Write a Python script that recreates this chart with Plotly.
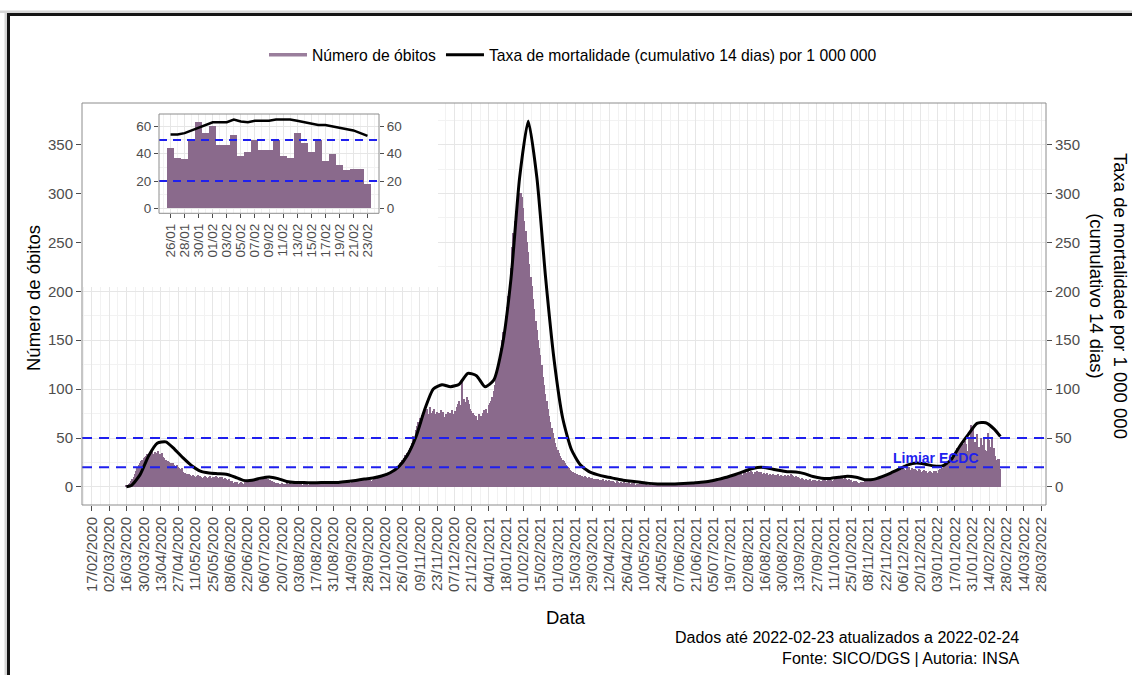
import pandas as pd
import plotly.graph_objects as go

# ---------------- data ----------------
# Daily number of deaths (SICO), one list per month
obitos_2020_03 = [1, 1, 3, 4, 6, 8, 10, 13, 16, 19, 22, 24, 26, 28, 30, 31]  # from 16/03
obitos_2020_04 = [32, 34, 33, 36, 35, 37, 34, 36, 33, 35, 37, 34, 33, 35, 31, 30, 28, 27, 26, 25,
                  24, 23, 24, 22, 21, 22, 20, 19, 18, 19]
obitos_2020_05 = [15, 14, 14, 13, 12, 13, 12, 11, 12, 11, 10, 11, 12, 10, 11, 10, 9, 10, 11, 10,
                  9, 10, 11, 9, 10, 10, 9, 11, 10, 9, 10]
obitos_2020_06 = [9, 10, 8, 9, 8, 7, 8, 6, 5, 6, 4, 5, 4, 5, 3, 4, 5, 4, 3, 5,
                  4, 6, 5, 7, 6, 8, 7, 6, 8, 7]
obitos_2020_07 = [8, 7, 9, 8, 7, 8, 9, 7, 8, 6, 7, 6, 5, 5, 4, 4, 4, 3, 3, 4,
                  3, 3, 3, 4, 3, 3, 4, 3, 3, 4, 3]
obitos_2020_08 = [3, 4, 3, 3, 4, 2, 3, 4, 3, 3, 2, 4, 3, 3, 4, 3, 2, 3, 4, 3,
                  3, 4, 3, 2, 3, 4, 3, 3, 4, 3, 4]
obitos_2020_09 = [3, 4, 4, 3, 5, 4, 4, 5, 4, 5, 5, 6, 5, 4, 6, 5, 6, 5, 6, 7,
                  6, 7, 6, 7, 6, 7, 8, 7, 8, 7]
obitos_2020_10 = [6, 7, 8, 9, 8, 9, 10, 9, 11, 10, 12, 11, 13, 12, 14, 13, 15, 16, 17, 18,
                  20, 21, 22, 24, 25, 28, 30, 33, 31, 35, 38]
obitos_2020_11 = [40, 42, 45, 52, 50, 58, 62, 66, 70, 68, 74, 72, 78, 76, 80, 75, 82, 76, 74, 78,
                  80, 75, 77, 73, 76, 79, 74, 77, 71, 75]
obitos_2020_12 = [74, 77, 72, 76, 79, 73, 75, 78, 82, 85, 88, 84, 108, 86, 90, 87, 92, 89, 85, 80,
                  78, 76, 74, 70, 72, 68, 75, 71, 73, 76, 79]
obitos_2021_01 = [78, 80, 76, 84, 86, 88, 92, 98, 104, 110, 118, 126, 134, 142, 150, 158, 166, 175, 184, 195,
                  208, 224, 245, 260, 272, 282, 290, 297, 301, 300, 296]
obitos_2021_02 = [285, 272, 262, 250, 240, 228, 215, 205, 192, 182, 170, 160, 150, 142, 135, 125, 112, 104, 95, 88,
                  80, 72, 66, 60, 55, 50, 45, 41]
obitos_2021_03 = [38, 35, 32, 30, 28, 26, 24, 22, 20, 19, 17, 16, 15, 13, 14, 13, 13, 12, 12, 11,
                  11, 10, 11, 10, 9, 10, 9, 8, 9, 8, 8]
obitos_2021_04 = [8, 7, 8, 7, 6, 7, 8, 6, 7, 6, 5, 7, 6, 5, 6, 5, 4, 6, 5, 4,
                  5, 4, 3, 5, 4, 3, 4, 5, 3, 4]
obitos_2021_05 = [3, 4, 2, 3, 3, 2, 4, 3, 2, 3, 2, 3, 1, 2, 3, 2, 2, 3, 1, 2,
                  2, 3, 2, 1, 2, 3, 2, 2, 1, 2, 3]
obitos_2021_06 = [2, 3, 2, 2, 3, 2, 3, 3, 2, 4, 3, 2, 3, 4, 3, 3, 4, 3, 4, 4,
                  3, 4, 3, 4, 4, 5, 4, 4, 5, 4]
obitos_2021_07 = [5, 6, 5, 6, 7, 6, 7, 8, 7, 6, 8, 7, 9, 8, 8, 10, 9, 11, 10, 12,
                  11, 10, 12, 13, 12, 11, 14, 13, 12, 14, 15]
obitos_2021_08 = [14, 16, 15, 14, 16, 15, 13, 15, 14, 16, 15, 14, 15, 13, 14, 12, 13, 14, 12, 13,
                  12, 11, 13, 12, 11, 12, 13, 11, 12, 10, 11]
obitos_2021_09 = [12, 11, 10, 12, 11, 13, 12, 11, 10, 11, 9, 10, 9, 8, 9, 8, 7, 8, 7, 6,
                  7, 8, 6, 7, 6, 7, 6, 5, 7, 6]
obitos_2021_10 = [6, 7, 6, 7, 6, 8, 7, 6, 7, 6, 7, 8, 9, 8, 9, 8, 10, 9, 8, 9,
                  8, 7, 8, 6, 7, 5, 6, 5, 6, 5, 4]
obitos_2021_11 = [4, 5, 4, 5, 6, 5, 6, 7, 6, 7, 8, 7, 8, 9, 8, 9, 10, 9, 10, 11,
                  10, 12, 11, 13, 12, 14, 13, 15, 14, 16]
obitos_2021_12 = [15, 17, 16, 18, 17, 19, 18, 17, 19, 18, 20, 17, 19, 18, 16, 18, 17, 16, 18, 17,
                  15, 16, 17, 15, 16, 14, 15, 16, 15, 14, 16]
obitos_2022_01 = [15, 16, 14, 17, 18, 16, 19, 20, 22, 21, 24, 23, 29, 31, 30, 33, 36, 37, 40, 39,
                  43, 42, 45, 44, 47, 44, 37, 36, 49, 63, 55]
obitos_2022_02 = [60, 46, 46, 54, 38, 41, 50, 43, 43, 50, 38, 37, 55, 48, 41, 50, 35, 40, 32, 28,
                  29, 29, 18]  # up to 23/02

# 14-day cumulative mortality rate per 1 000 000 (weekly readings, Fridays)
taxa_14d = [0.1,
            1.5, 12.3, 31.7, 44.7, 46.0, 38.7, 29.6, 21.7, 16.1, 14.2,
            13.5, 12.9, 10.1, 6.7, 6.7, 9.0, 10.2, 8.5, 5.6, 4.5,
            4.4, 4.3, 4.4, 4.4, 4.6, 5.5, 6.6, 8.0, 9.0, 11.1,
            14.5, 20.8, 32.5, 51.6, 79.1, 100.1, 104.4, 102.5, 105.0, 116.1,
            113.7, 102.4, 109.1, 144.5, 213.0, 316.2, 374.0, 316.2, 215.0, 129.5,
            69.9, 38.2, 22.9, 15.9, 12.5, 10.3, 8.6, 6.9, 5.7, 4.8,
            3.6, 3.0, 2.9, 2.9, 3.4, 4.1, 4.7, 5.7, 7.7, 9.9,
            12.7, 15.9, 18.8, 20.1, 18.7, 17.0, 15.6, 15.2, 13.6, 10.6,
            8.9, 8.7, 9.8, 11.0, 9.9, 7.4, 7.7, 10.6, 14.2, 18.3,
            22.5, 24.4, 23.2, 21.4, 21.5, 27.7, 41.6, 53.7, 64.9, 65.6,
            59.1,
            51.5]

# detail window (last 4 weeks): daily rate
detalhe_taxa = [54, 54, 55, 57, 59, 61, 63, 63, 63, 65, 63.5, 63, 64, 64, 64,
                65, 65, 65, 64, 63, 62, 61, 61, 60, 59, 58, 57, 55, 53]

limiares = [20, 50]          # ECDC thresholds
y_ticks = [0, 50, 100, 150, 200, 250, 300, 350]
y_ticks_detalhe = [0, 20, 40, 60]

obitos = (obitos_2020_03 + obitos_2020_04 + obitos_2020_05 + obitos_2020_06 + obitos_2020_07 +
          obitos_2020_08 + obitos_2020_09 + obitos_2020_10 + obitos_2020_11 + obitos_2020_12 +
          obitos_2021_01 + obitos_2021_02 + obitos_2021_03 + obitos_2021_04 + obitos_2021_05 +
          obitos_2021_06 + obitos_2021_07 + obitos_2021_08 + obitos_2021_09 + obitos_2021_10 +
          obitos_2021_11 + obitos_2021_12 + obitos_2022_01 + obitos_2022_02)
datas = pd.date_range("2020-03-16", "2022-02-23", freq="D")
assert len(obitos) == len(datas)

taxa_datas = ([pd.Timestamp("2020-03-16")]
              + list(pd.date_range("2020-03-20", "2022-02-18", freq="7D"))
              + [pd.Timestamp("2022-02-23")])
assert len(taxa_datas) == len(taxa_14d)

detalhe_datas = datas[-29:]
detalhe_obitos = obitos[-29:]
assert len(detalhe_taxa) == len(detalhe_datas)

# ---------------- styling ----------------
W, H = 1132, 675
ML, MR, MT, MB = 82, 86, 103, 170
PW, PH = W - ML - MR, H - MT - MB


def px_x(px):
    return (px - ML) / PW


def px_y(py):
    return (H - MB - py) / PH


FONT = "Liberation Sans, Arial, Helvetica, sans-serif"
BAR = "#8A6A8C"
GRID = "#E6E6E6"
GRID_MINOR = "#F2F2F2"
TICKTXT = "#4D4D4D"
BORDER = "#8C8C8C"
BLUE = "#1F1FEE"
DAY = 86400000

fig = go.Figure()

# main chart
fig.add_trace(go.Bar(x=datas, y=obitos, width=DAY, marker=dict(color=BAR, line=dict(width=0)),
                     showlegend=False, hoverinfo="x+y", xaxis="x", yaxis="y"))
fig.add_trace(go.Scatter(x=[None], y=[None], mode="lines", name="Número de óbitos",
                         line=dict(color="#9A7E9C", width=3.5), xaxis="x", yaxis="y", legendrank=1))
fig.add_trace(go.Scatter(x=taxa_datas, y=taxa_14d, mode="lines",
                         name="Taxa de mortalidade (cumulativo 14 dias) por 1 000 000",
                         line=dict(color="black", width=3, shape="spline", smoothing=0.6),
                         xaxis="x", yaxis="y", legendrank=2))
# right-hand axis carrier
fig.add_trace(go.Scatter(x=[None], y=[None], showlegend=False, hoverinfo="skip", xaxis="x", yaxis="y2"))
# white backdrop behind the detail panel
fig.add_trace(go.Scatter(x=[None], y=[None], showlegend=False, hoverinfo="skip", xaxis="x2", yaxis="y3"))
# detail panel
fig.add_trace(go.Bar(x=detalhe_datas, y=detalhe_obitos, width=DAY,
                     marker=dict(color=BAR, line=dict(width=0)),
                     showlegend=False, xaxis="x3", yaxis="y4"))
fig.add_trace(go.Scatter(x=detalhe_datas, y=detalhe_taxa, mode="lines",
                         line=dict(color="black", width=2.5), showlegend=False,
                         xaxis="x3", yaxis="y4"))
fig.add_trace(go.Scatter(x=[None], y=[None], showlegend=False, hoverinfo="skip", xaxis="x3", yaxis="y5"))

tickfont = dict(family=FONT, size=15, color=TICKTXT)
tickfont_small = dict(family=FONT, size=13.5, color=TICKTXT)

yrange = [-18.5, 392.5]
yrange_det = [-3.6, 69]

shapes = []
for v in limiares:
    shapes.append(dict(type="line", xref="x domain", yref="y", x0=0, x1=1, y0=v, y1=v,
                       line=dict(color=BLUE, width=2, dash="10px,7px"), layer="above"))
    shapes.append(dict(type="line", xref="x3 domain", yref="y4", x0=0, x1=1, y0=v, y1=v,
                       line=dict(color=BLUE, width=2, dash="8px,6px"), layer="above"))
# panel borders
shapes.append(dict(type="rect", xref="paper", yref="paper", x0=0, x1=1, y0=0, y1=1,
                   line=dict(color=BORDER, width=1), fillcolor="rgba(0,0,0,0)", layer="above"))
shapes.append(dict(type="rect", xref="x3 domain", yref="y4 domain", x0=0, x1=1, y0=0, y1=1,
                   line=dict(color=BORDER, width=1), fillcolor="rgba(0,0,0,0)", layer="above"))
# page frame
shapes.append(dict(type="rect", xref="paper", yref="paper", x0=px_x(0), x1=px_x(W),
                   y0=px_y(13), y1=px_y(10.5), line=dict(width=0), fillcolor="#D6D6D6", layer="above"))
shapes.append(dict(type="rect", xref="paper", yref="paper", x0=px_x(7), x1=px_x(W),
                   y0=px_y(16), y1=px_y(13), line=dict(width=0), fillcolor="#151515", layer="above"))
shapes.append(dict(type="rect", xref="paper", yref="paper", x0=px_x(4.5), x1=px_x(7),
                   y0=px_y(H), y1=px_y(13), line=dict(width=0), fillcolor="#D6D6D6", layer="above"))
shapes.append(dict(type="rect", xref="paper", yref="paper", x0=px_x(7), x1=px_x(10),
                   y0=px_y(H), y1=px_y(13), line=dict(width=0), fillcolor="#151515", layer="above"))

annotations = [
    dict(text="<b>Limiar ECDC</b>", x="2022-01-02", y=30, xref="x", yref="y", showarrow=False,
         font=dict(family=FONT, size=14, color=BLUE), xanchor="center", yanchor="middle"),
    dict(text="Número de óbitos", x=px_x(33), y=px_y(298), xref="paper", yref="paper",
         showarrow=False, textangle=-90, font=dict(family=FONT, size=18.5, color="black"),
         xanchor="center", yanchor="middle"),
    dict(text="Taxa de mortalidade por 1 000 000<br>(cumulativo 14 dias)", x=px_x(1109), y=px_y(296),
         xref="paper", yref="paper", showarrow=False, textangle=90,
         font=dict(family=FONT, size=18.5, color="black"), xanchor="center", yanchor="middle"),
    dict(text="Data", x=px_x(566), y=px_y(617), xref="paper", yref="paper", showarrow=False,
         font=dict(family=FONT, size=18.5, color="black"), xanchor="center", yanchor="middle"),
    dict(text="Dados até 2022-02-23 atualizados a 2022-02-24<br>Fonte: SICO/DGS | Autoria: INSA",
         x=px_x(1022), y=px_y(648), xref="paper", yref="paper", showarrow=False, align="right",
         font=dict(family=FONT, size=16, color="black"), xanchor="right", yanchor="middle"),
]

fig.update_layout(
    width=W, height=H, autosize=False,
    margin=dict(l=ML, r=MR, t=MT, b=MB, autoexpand=False),
    paper_bgcolor="white", plot_bgcolor="white",
    font=dict(family=FONT, color="black"),
    bargap=0,
    showlegend=True,
    legend=dict(orientation="h", x=px_x(573), xanchor="center", y=px_y(55), yanchor="middle",
                font=dict(family=FONT, size=15.7, color="black"), bgcolor="rgba(0,0,0,0)",
                itemwidth=38, traceorder="normal"),
    xaxis=dict(type="date", domain=[0, 1], anchor="y",
               range=["2020-02-09", "2022-04-01"],
               tick0="2020-02-17", dtick=14 * DAY, tickformat="%d/%m/%Y", tickangle=-90,
               ticks="outside", ticklen=5, tickcolor=TICKTXT, tickfont=tickfont,
               showgrid=True, gridcolor=GRID, zeroline=False, showline=False,
               minor=dict(tick0="2020-02-17", dtick=7 * DAY, showgrid=True, gridcolor=GRID_MINOR)),
    yaxis=dict(domain=[0, 1], anchor="x", range=yrange, tickvals=y_ticks,
               ticks="outside", ticklen=5, tickcolor=TICKTXT, tickfont=tickfont,
               showgrid=True, gridcolor=GRID, zeroline=False, showline=False,
               minor=dict(dtick=25, showgrid=True, gridcolor=GRID_MINOR)),
    yaxis2=dict(overlaying="y", side="right", anchor="x", range=yrange, tickvals=y_ticks,
                ticks="outside", ticklen=5, tickcolor=TICKTXT, tickfont=tickfont,
                showgrid=False, zeroline=False, showline=False),
    xaxis2=dict(domain=[0, px_x(438)], anchor="y3", visible=False, range=[0, 1]),
    yaxis3=dict(domain=[px_y(287), 1], anchor="x2", visible=False, range=[0, 1]),
    xaxis3=dict(type="date", domain=[px_x(159), px_x(379)], anchor="y4",
                range=["2022-01-24 08:40", "2022-02-24 15:20"],
                tick0="2022-01-26", dtick=2 * DAY, tickformat="%d/%m", tickangle=-90,
                ticks="outside", ticklen=4, tickcolor=TICKTXT, tickfont=tickfont_small,
                showgrid=True, gridcolor=GRID, zeroline=False, showline=False,
                minor=dict(tick0="2022-01-26", dtick=DAY, showgrid=True, gridcolor=GRID_MINOR)),
    yaxis4=dict(domain=[px_y(213.3), px_y(114)], anchor="x3", range=yrange_det,
                tickvals=y_ticks_detalhe, ticks="outside", ticklen=4, tickcolor=TICKTXT,
                tickfont=tickfont_small, showgrid=True, gridcolor=GRID, zeroline=False,
                showline=False, minor=dict(dtick=10, showgrid=True, gridcolor=GRID_MINOR)),
    yaxis5=dict(overlaying="y4", side="right", anchor="x3", range=yrange_det,
                tickvals=y_ticks_detalhe, ticks="outside", ticklen=4, tickcolor=TICKTXT,
                tickfont=tickfont_small, showgrid=False, zeroline=False, showline=False),
    shapes=shapes,
    annotations=annotations,
)

fig.write_html("out.html")
